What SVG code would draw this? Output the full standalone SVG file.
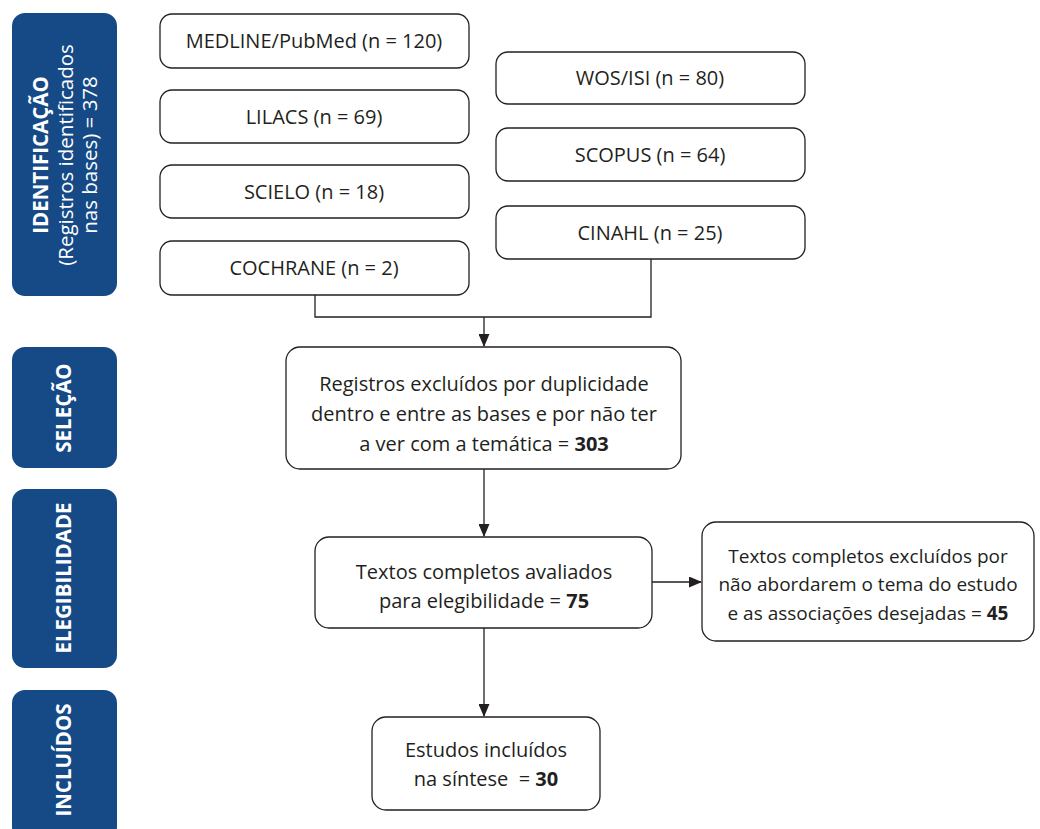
<svg xmlns="http://www.w3.org/2000/svg" width="1040" height="829" viewBox="0 0 1040 829">
<defs>
<marker id="arr" markerWidth="13" markerHeight="11" refX="12" refY="5.5" orient="auto" markerUnits="userSpaceOnUse"><path d="M0,0 L13,5.5 L0,11 Z" fill="#231f20"/></marker>
<style>
.bar{fill:#164a87}
.box{fill:#fff;stroke:#231f20;stroke-width:1.3}
.t{font-family:"Open Sans","Noto Sans",sans-serif;font-size:20px;fill:#231f20;text-anchor:middle}
.s{font-size:19px}
.w{font-family:"Open Sans","Noto Sans",sans-serif;font-size:20.5px;fill:#fff;text-anchor:middle}
.b{font-weight:bold}
.c{fill:none;stroke:#231f20;stroke-width:1.3}
</style>
</defs>
<rect width="1040" height="829" fill="#fff"/>
<g id="phase-identificacao">
<rect class="bar" x="12" y="13" width="105" height="283" rx="13"/>
<text class="w" transform="translate(64,155) rotate(-90)"><tspan x="0" y="-16" class="b">IDENTIFICAÇÃO</tspan><tspan x="0" y="9">(Registros identificados</tspan><tspan x="0" y="33">nas bases) = 378</tspan></text>
</g>
<g id="phase-selecao">
<rect class="bar" x="12" y="347" width="105" height="121" rx="13"/>
<text class="w b" transform="translate(64,408) rotate(-90)" y="7">SELEÇÃO</text>
</g>
<g id="phase-elegibilidade">
<rect class="bar" x="12" y="489" width="105" height="179" rx="13"/>
<text class="w b" transform="translate(64,578) rotate(-90)" y="7">ELEGIBILIDADE</text>
</g>
<g id="phase-incluidos">
<rect class="bar" x="12" y="690" width="105" height="150" rx="13"/>
<text class="w b" transform="translate(64,760) rotate(-90)" y="7">INCLUÍDOS</text>
</g>
<g id="medline"><rect class="box" x="160" y="14" width="309" height="54" rx="12"/><text class="t" x="314" y="48">MEDLINE/PubMed (n = 120)</text></g>
<g id="lilacs"><rect class="box" x="160" y="90" width="309" height="53" rx="12"/><text class="t" x="314" y="124">LILACS (n = 69)</text></g>
<g id="scielo"><rect class="box" x="160" y="165" width="309" height="53" rx="12"/><text class="t" x="314" y="199">SCIELO (n = 18)</text></g>
<g id="cochrane"><rect class="box" x="160" y="241" width="309" height="54" rx="12"/><text class="t" x="314" y="275">COCHRANE (n = 2)</text></g>
<g id="wos"><rect class="box" x="496" y="52" width="309" height="52" rx="12"/><text class="t" x="650" y="85">WOS/ISI (n = 80)</text></g>
<g id="scopus"><rect class="box" x="496" y="128" width="309" height="53" rx="12"/><text class="t" x="650" y="162">SCOPUS (n = 64)</text></g>
<g id="cinahl"><rect class="box" x="496" y="206" width="309" height="53" rx="12"/><text class="t" x="650" y="240">CINAHL (n = 25)</text></g>
<g id="selecao"><rect class="box" x="286" y="347" width="395" height="122" rx="14"/><text class="t"><tspan x="484" y="391">Registros excluídos por duplicidade</tspan><tspan x="484" y="421">dentro e entre as bases e por não ter</tspan><tspan x="484" y="451">a ver com a temática = <tspan class="b">303</tspan></tspan></text></g>
<g id="elegibilidade"><rect class="box" x="315" y="537" width="337" height="91" rx="14"/><text class="t"><tspan x="484" y="579">Textos completos avaliados</tspan><tspan x="484" y="608">para elegibilidade = <tspan class="b">75</tspan></tspan></text></g>
<g id="excluidos"><rect class="box" x="702" y="522" width="332" height="119" rx="14"/><text class="t s"><tspan x="868" y="563">Textos completos excluídos por</tspan><tspan x="868" y="591">não abordarem o tema do estudo</tspan><tspan x="868" y="620">e as associações desejadas = <tspan class="b">45</tspan></tspan></text></g>
<g id="incluidos"><rect class="box" x="372" y="717" width="228" height="93" rx="14"/><text class="t"><tspan x="486" y="757">Estudos incluídos</tspan><tspan x="486" y="786">na síntese&#160; = <tspan class="b">30</tspan></tspan></text></g>
<g id="connectors">
<path class="c" d="M315,295 V317 H651 V259"/>
<path class="c" d="M484,317 V346" marker-end="url(#arr)"/>
<path class="c" d="M484,469 V536" marker-end="url(#arr)"/>
<path class="c" d="M652,582 H701" marker-end="url(#arr)"/>
<path class="c" d="M484,628 V716" marker-end="url(#arr)"/>
</g>
</svg>
